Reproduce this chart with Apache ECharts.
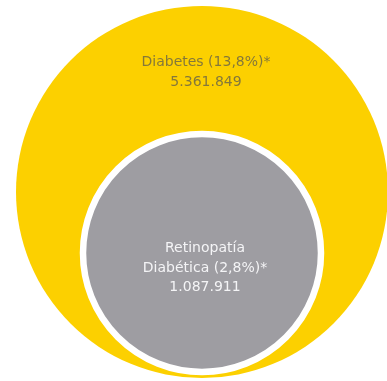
<!DOCTYPE html>
<html>
<head>
<meta charset="utf-8">
<style>
  html, body { margin: 0; padding: 0; background: #ffffff; }
  #chart { width: 387px; height: 381px; }
</style>
<script src="https://cdn.jsdelivr.net/npm/echarts@6/dist/echarts.min.js"></script>
</head>
<body>
<div id="chart"></div>
<script>
// Population groups (outer set contains the inner one)
const groupNames = ['Diabetes', 'Retinopatía\nDiabética'];
const groupPercents = ['13,8%', '2,8%'];
const groupCounts = [5361849, 1087911];

// Spanish thousands separator
function fmtCount(n) {
  return String(n).replace(/\B(?=(\d{3})+(?!\d))/g, '.');
}
function labelText(i) {
  return groupNames[i] + ' (' + groupPercents[i] + ')*\n' + fmtCount(groupCounts[i]);
}

const chart = echarts.init(document.getElementById('chart'), null, { renderer: 'canvas' });

const textFont = { fontFamily: 'DejaVu Sans', fontSize: 14, lineHeight: 20, align: 'center', verticalAlign: 'middle' };

chart.setOption({
  animation: false,
  backgroundColor: '#ffffff',
  series: [
    {
      type: 'pie',
      silent: true,
      center: [202, 192],
      radius: [0, 186],
      startAngle: 90,
      itemStyle: { color: '#fcd000' },
      label: { show: false },
      labelLine: { show: false },
      data: [{ name: groupNames[0], value: groupCounts[0] }]
    },
    {
      type: 'pie',
      silent: true,
      center: [202, 253],
      radius: [0, 119],
      startAngle: 90,
      itemStyle: { color: '#9e9da2', borderColor: '#ffffff', borderWidth: 6.5 },
      label: { show: false },
      labelLine: { show: false },
      data: [{ name: groupNames[1], value: groupCounts[1] }]
    }
  ],
  graphic: [
    {
      type: 'text',
      silent: true,
      z: 10,
      x: 206,
      y: 72,
      style: { text: labelText(0), fill: '#84783a', ...textFont }
    },
    {
      type: 'text',
      silent: true,
      z: 10,
      x: 205,
      y: 268,
      style: { text: labelText(1), fill: '#f4f4f6', ...textFont, lineHeight: 19.5 }
    }
  ]
});
</script>
</body>
</html>
